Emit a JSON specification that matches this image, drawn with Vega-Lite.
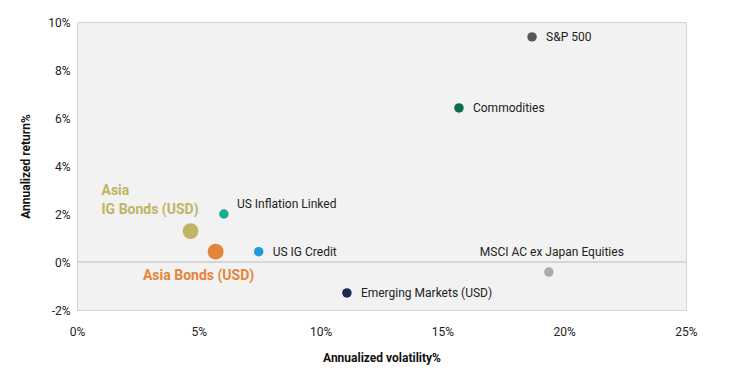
{
  "$schema": "https://vega.github.io/schema/vega-lite/v6.json",
  "width": 609,
  "height": 288,
  "autosize": {"type": "none"},
  "padding": {"left": 77, "top": 22, "right": 51, "bottom": 72},
  "background": "white",
  "config": {
    "font": "Roboto",
    "view": {"fill": "#f2f2f2", "stroke": "#d4d4d4", "strokeWidth": 1},
    "axis": {"grid": false, "ticks": false, "domain": false, "labelFont": "Roboto", "labelFontSize": 12, "labelColor": "#222222", "titleFont": "Roboto", "titleFontSize": 12, "titleFontWeight": "bold", "titleColor": "#111111"}
  },
  "data": {
    "values": [
      {"name": "S&P 500", "vol": 18.68, "ret": 9.38, "group": "Other"},
      {"name": "Commodities", "vol": 15.68, "ret": 6.42, "group": "Other"},
      {"name": "US Inflation Linked", "vol": 6.03, "ret": 2.0, "group": "Other"},
      {"name": "Asia IG Bonds (USD)", "vol": 4.66, "ret": 1.29, "group": "Asia"},
      {"name": "Asia Bonds (USD)", "vol": 5.69, "ret": 0.43, "group": "Asia"},
      {"name": "US IG Credit", "vol": 7.46, "ret": 0.43, "group": "Other"},
      {"name": "Emerging Markets (USD)", "vol": 11.08, "ret": -1.29, "group": "Other"},
      {"name": "MSCI AC ex Japan Equities", "vol": 19.37, "ret": -0.42, "group": "Other"}
    ]
  },
  "encoding": {
    "x": {"field": "vol", "type": "quantitative", "scale": {"domain": [0, 25], "nice": false, "zero": false},
      "axis": {"values": [0, 5, 10, 15, 20, 25], "labelExpr": "datum.value + '%'", "title": "Annualized volatility%", "labelPadding": 16, "titlePadding": 15, "labelFlush": false}},
    "y": {"field": "ret", "type": "quantitative", "scale": {"domain": [-2, 10], "nice": false, "zero": false},
      "axis": {"values": [-2, 0, 2, 4, 6, 8, 10], "labelExpr": "datum.value + '%'", "title": "Annualized return%", "labelPadding": 7, "titlePadding": 15}}
  },
  "layer": [
    {
      "mark": {"type": "rule", "color": "#d6d6d6", "strokeWidth": 1.5},
      "encoding": {"y": {"datum": 0}, "x": {}}
    },
    {
      "mark": {"type": "circle", "opacity": 1},
      "encoding": {
        "color": {"field": "name", "type": "nominal", "legend": null,
          "scale": {"domain": ["S&P 500", "Commodities", "US Inflation Linked", "Asia IG Bonds (USD)", "Asia Bonds (USD)", "US IG Credit", "Emerging Markets (USD)", "MSCI AC ex Japan Equities"],
            "range": ["#58585b", "#0f6b50", "#1aab98", "#c1b464", "#e6843a", "#1e9bd8", "#1a2a4c", "#ababab"]}},
        "size": {"field": "group", "type": "nominal", "legend": null, "scale": {"domain": ["Asia", "Other"], "range": [250, 90]}}
      }
    },
    {
      "transform": [{"filter": {"field": "name", "oneOf": ["S&P 500", "Commodities", "US IG Credit", "Emerging Markets (USD)"]}}],
      "mark": {"type": "text", "align": "left", "baseline": "middle", "dx": 14, "dy": 0, "fontSize": 12, "color": "#222222"},
      "encoding": {"text": {"field": "name"}}
    },
    {
      "transform": [{"filter": {"field": "name", "equal": "US Inflation Linked"}}],
      "mark": {"type": "text", "align": "left", "baseline": "middle", "dx": 13, "dy": -10, "fontSize": 12, "color": "#222222"},
      "encoding": {"text": {"field": "name"}}
    },
    {
      "transform": [{"filter": {"field": "name", "equal": "MSCI AC ex Japan Equities"}}],
      "mark": {"type": "text", "align": "center", "baseline": "middle", "dx": 3, "dy": -20, "fontSize": 12, "color": "#222222"},
      "encoding": {"text": {"field": "name"}}
    },
    {
      "transform": [{"filter": {"field": "name", "equal": "Asia IG Bonds (USD)"}}],
      "mark": {"type": "text", "align": "left", "baseline": "middle", "dx": -89, "dy": -40, "fontSize": 14, "fontWeight": "bold", "color": "#c1b464", "lineBreak": "|", "lineHeight": 19},
      "encoding": {"text": {"value": "Asia|IG Bonds (USD)"}}
    },
    {
      "transform": [{"filter": {"field": "name", "equal": "Asia Bonds (USD)"}}],
      "mark": {"type": "text", "align": "center", "baseline": "middle", "dx": -17, "dy": 24, "fontSize": 14, "fontWeight": "bold", "color": "#e6843a"},
      "encoding": {"text": {"field": "name"}}
    }
  ]
}
